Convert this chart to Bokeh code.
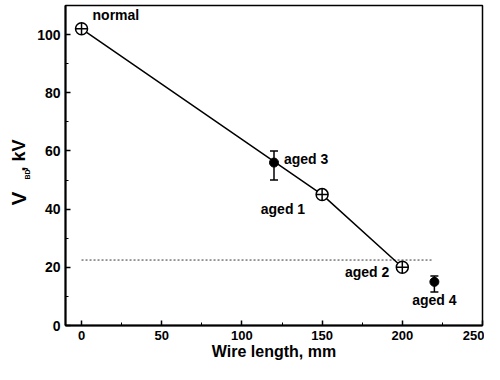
import math
from bokeh.plotting import figure
from bokeh.layouts import row
from bokeh.models import Range1d, FixedTicker, Whisker, ColumnDataSource, Label, TeeHead
from bokeh.core.properties import value
from bokeh.embed import file_html
from bokeh.resources import INLINE

# ---- data ----
open_x = [0, 150, 200]
open_y = [102, 45, 20]
open_names = ["normal", "aged 1", "aged 2"]
filled_x = [120, 220]
filled_y = [56, 15]
filled_lower = [50, 11.5]
filled_upper = [60, 17]
filled_names = ["aged 3", "aged 4"]
ref_x = [0, 219]
ref_y = [22.5, 22.5]
x_ticks = [0, 50, 100, 150, 200, 250]
x_minor = [25, 75, 125, 175, 225]
y_ticks = [0, 20, 40, 60, 80, 100]
y_minor = [10, 30, 50, 70, 90]

FONT = "Liberation Sans"
H = 364

p = figure(width=451, height=H, output_backend="svg", toolbar_location=None,
           x_range=Range1d(-10, 250), y_range=Range1d(0, 110),
           min_border_left=32, min_border_right=2, min_border_top=5, min_border_bottom=39)
p.grid.visible = False
p.outline_line_color = "black"
p.outline_line_width = 1.5
p.background_fill_color = "white"
p.border_fill_color = "white"

p.xaxis.ticker = FixedTicker(ticks=x_ticks, minor_ticks=x_minor)
p.yaxis.ticker = FixedTicker(ticks=y_ticks, minor_ticks=y_minor)
for ax in (p.xaxis[0], p.yaxis[0]):
    ax.axis_line_width = 2
    ax.axis_line_color = "black"
    ax.major_tick_in = 5
    ax.major_tick_out = 0
    ax.minor_tick_in = 3
    ax.minor_tick_out = 0
    ax.major_tick_line_width = 1.5
    ax.minor_tick_line_width = 1
    ax.major_label_text_font = FONT
    ax.major_label_text_font_style = "bold"
    ax.major_label_text_font_size = "14px"
    ax.major_label_text_color = "black"
p.xaxis.major_label_text_font_size = "13px"
p.xaxis.major_label_standoff = 5
p.yaxis.major_label_standoff = 5
p.xaxis.axis_label = "Wire length, mm"
p.xaxis.axis_label_standoff = 0
p.xaxis.axis_label_text_font = FONT
p.xaxis.axis_label_text_font_style = "bold"
p.xaxis.axis_label_text_font_size = "16px"
p.xaxis.axis_label_text_color = "black"

# reference dotted line
p.line(ref_x, ref_y, line_dash="2 2", line_color="#333333", line_width=1)
# trend line
p.line(open_x, open_y, line_color="black", line_width=1.5)

# error bars
src = ColumnDataSource(dict(x=filled_x, lower=filled_lower, upper=filled_upper))
p.add_layout(Whisker(base="x", lower="lower", upper="upper", source=src,
                     line_color="black", line_width=1.5,
                     upper_head=TeeHead(size=8, line_width=1.5, line_color="black"),
                     lower_head=TeeHead(size=8, line_width=1.5, line_color="black")))

p.scatter(open_x, open_y, marker="circle_cross", size=12, fill_color="white",
          line_color="black", line_width=1.5)
p.scatter(filled_x, filled_y, marker="circle", size=9, color="black")

def lab(x, y, t, dx, dy, align):
    p.text([x], [y], text=[t], x_offset=dx, y_offset=dy, text_align=align,
           text_baseline="middle", text_font=value(FONT), text_font_style="bold",
           text_font_size="14px", text_color="black")

lab(open_x[0], open_y[0], open_names[0], 11, -14, "left")
lab(open_x[1], open_y[1], open_names[1], -17, 14, "right")
lab(open_x[2], open_y[2], open_names[2], -13, 5, "right")
lab(filled_x[0], filled_y[0], filled_names[0], 10, -4, "left")
lab(filled_x[1], filled_y[1], filled_names[1], 0, 18, "center")

# y-axis title panel: "V_BD, kV" (its frame is aligned with the main frame)
ylab = figure(width=33, height=H, output_backend="svg", toolbar_location=None,
              x_axis_type=None, y_axis_type=None,
              min_border_left=0, min_border_right=0, min_border_top=5, min_border_bottom=39,
              x_range=Range1d(0, 1), y_range=Range1d(0, 1))
ylab.outline_line_color = None
ylab.grid.visible = False
ylab.background_fill_color = "white"
ylab.border_fill_color = "white"
ang = math.pi / 2

def ytitle(x, y, t, size):
    ylab.add_layout(Label(x=x, y=y, x_units="screen", y_units="screen", text=t, angle=ang,
                          text_align="center", text_baseline="middle", text_font=FONT,
                          text_font_style="bold", text_font_size=size, text_color="black"))

ytitle(17.5, 127, "V", "21px")
ytitle(27, 151, "BD", "7px")
ytitle(18.5, 170, ", kV", "18px")

layout = row(ylab, p, spacing=0)
open("out.html", "w").write(file_html(layout, INLINE))
